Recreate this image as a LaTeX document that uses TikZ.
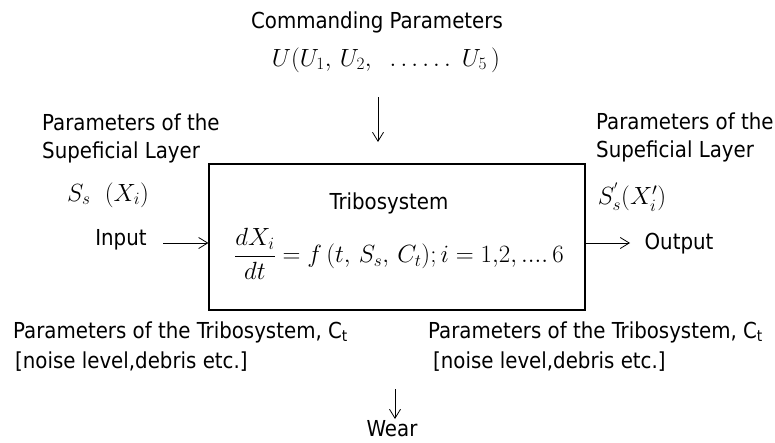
\documentclass[tikz,border=0pt]{standalone}
\usepackage{amsmath}
\usepackage{fontspec}
\setmainfont{DejaVu Sans Condensed}
\usetikzlibrary{arrows.meta}
\begin{document}
\begin{tikzpicture}[x=1pt,y=-1pt,
  lbl/.style={font=\fontsize{22}{26}\selectfont, inner sep=0pt},
  ttl/.style={font=\fontsize{22}{26}\selectfont, inner sep=0pt},
  mth/.style={font=\fontsize{25}{29}\selectfont, inner sep=0pt},
  arr/.style={-{Straight Barb[length=9pt,width=11pt]}, line width=0.8pt},
  boxst/.style={draw, line width=1.2pt, minimum width=376pt, minimum height=146pt, inner sep=0pt}]
\useasboundingbox (0,0) rectangle (775,442);
% top
\node[ttl] (cmd) at (377,22) {Commanding Parameters};
\node[mth] (U) at (386,60) {$U(U_1,\, U_2,\;\; \ldots\ldots\; U_5\,)$};
\coordinate (ctop) at (378,97);
\coordinate (cbot) at (378,142);
\draw[arr] (ctop) -- (cbot);
% box
\node[boxst] (box) at (397,237) {};
\node[lbl] (tribo) at (389,203) {Tribosystem};
\node[mth] (eq) at (399,254) {$\dfrac{dX_i}{dt} = f\,(t,\, S_s,\, C_t); i = 1{,}2{,}\,....\,6$};
% left
\node[lbl, anchor=base west] (lp1) at (42,130) {Parameters of the};
\node[lbl, anchor=base west] (lp2) at (42,158) {Supeficial Layer};
\node[mth] (ls) at (108,195) {$S_s\ \ (X_i)$};
\node[lbl] (inp) at (121,240) {Input};
\coordinate (ina) at (163,243);
\draw[arr] (ina) -- (box.west |- ina);
% right
\node[lbl, anchor=base west] (rp1) at (596,129) {Parameters of the};
\node[lbl, anchor=base west] (rp2) at (596,157) {Supeficial Layer};
\node[mth] (rs) at (632,197) {$S_s^{'}(X_i')$};
\node[lbl] (outp) at (679,244) {Output};
\coordinate (outa) at (630,243);
\draw[arr] (box.east |- outa) -- (outa);
% bottom
\node[lbl, anchor=base west] (lb1) at (13,338) {Parameters of the Tribosystem, C\textsubscript{t}};
\node[lbl, anchor=base west] (lb2) at (15,368) {[noise level,debris etc.]};
\node[lbl, anchor=base west] (rb1) at (428,338) {Parameters of the Tribosystem, C\textsubscript{t}};
\node[lbl, anchor=base west] (rb2) at (433,368) {[noise level,debris etc.]};
\coordinate (wtop) at (395,389);
\coordinate (wbot) at (395,419);
\node[lbl, anchor=base] (wear) at (392,436) {Wear};
\draw[arr] (wtop) -- (wbot);
\end{tikzpicture}
\end{document}
